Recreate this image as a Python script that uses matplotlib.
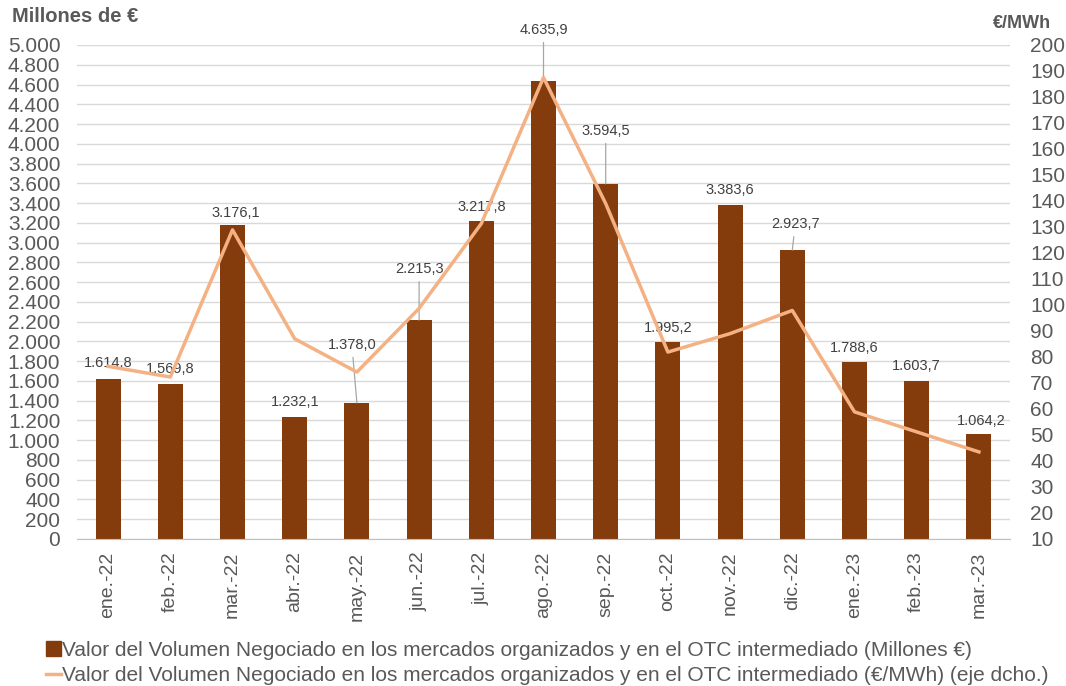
import matplotlib
matplotlib.use('Agg')
import matplotlib.pyplot as plt
from matplotlib.ticker import FuncFormatter, MultipleLocator
from matplotlib.patches import Patch
from matplotlib.lines import Line2D

# Data
meses = ['ene.-22', 'feb.-22', 'mar.-22', 'abr.-22', 'may.-22', 'jun.-22', 'jul.-22',
         'ago.-22', 'sep.-22', 'oct.-22', 'nov.-22', 'dic.-22', 'ene.-23', 'feb.-23', 'mar.-23']
millones = [1614.8, 1569.8, 3176.1, 1232.1, 1378.0, 2215.3, 3217.8,
            4635.9, 3594.5, 1995.2, 3383.6, 2923.7, 1788.6, 1603.7, 1064.2]
eur_mwh = [76.4, 72.3, 128.9, 87.0, 74.2, 98.7, 131.3,
           187.5, 139.0, 81.9, 89.0, 97.9, 58.9, 51.2, 43.5]

# label placement (pixels above bar top) and which labels have leader lines
lbl_dy = [16, 15, 12, 15, 58, 51, 14, 51, 53, 14, 15, 26, 14, 15, 13]
lbl_dx = [0, 0, 3, 0, -5, 0, 0, 0, 0, 0, 0, 3, 0, 0, 2]
leader = [False, False, False, False, True, True, False, True, True, False, False, True, False, False, False]

bar_color = '#843C0C'
line_color = '#F4B183'
txt_color = '#595959'

plt.rcParams['font.family'] = ['Liberation Sans', 'DejaVu Sans']

fig = plt.figure(figsize=(10.66, 6.86), dpi=100)
ax = fig.add_axes([77 / 1066, 1 - 539 / 686, (1010 - 77) / 1066, (539 - 45) / 686])
x = list(range(len(meses)))

ax.bar(x, millones, width=0.4, color=bar_color, zorder=2)
ax.set_xlim(-0.5, len(meses) - 0.5)
ax.set_ylim(0, 5000)
ax.yaxis.set_major_locator(MultipleLocator(200))
ax.yaxis.set_major_formatter(FuncFormatter(lambda v, p: f'{int(v):,}'.replace(',', '.')))
ax.grid(axis='y', color='#D9D9D9', lw=1, zorder=0)
ax.set_axisbelow(True)
for s in ['top', 'left', 'right']:
    ax.spines[s].set_visible(False)
ax.spines['bottom'].set_color('#BFBFBF')
ax.set_xticks(x)
ax.set_xticklabels(meses, rotation=90, fontsize=14, color=txt_color)
ax.tick_params(axis='x', length=0, pad=9)
ax.tick_params(axis='y', length=0, labelsize=15, labelcolor=txt_color, pad=12)

for i, v in enumerate(millones):
    lab = f'{v:,.1f}'.replace(',', 'X').replace('.', ',').replace('X', '.')
    if leader[i]:
        ax.annotate(lab, (i, v), xytext=(lbl_dx[i], lbl_dy[i]), textcoords='offset pixels',
                    ha='center', va='center', fontsize=10.5, color='#404040',
                    arrowprops=dict(arrowstyle='-', color='#A6A6A6', lw=0.9, shrinkA=2, shrinkB=0))
    else:
        ax.annotate(lab, (i, v), xytext=(lbl_dx[i], lbl_dy[i]), textcoords='offset pixels',
                    ha='center', va='center', fontsize=10.5, color='#404040')

ax2 = ax.twinx()
ax2.plot(x, eur_mwh, color=line_color, lw=2.5, zorder=3)
ax2.set_ylim(10, 200)
ax2.yaxis.set_major_locator(MultipleLocator(10))
for s in ['top', 'left', 'right', 'bottom']:
    ax2.spines[s].set_visible(False)
ax2.tick_params(axis='y', length=0, labelsize=15, labelcolor=txt_color, pad=14.5)

fig.text(12 / 1066, 1 - 17 / 686, 'Millones de €', fontsize=14.5, fontweight='bold',
         color=txt_color, va='center', ha='left')
fig.text(1051 / 1066, 1 - 23 / 686, '€/MWh', fontsize=13, fontweight='bold',
         color=txt_color, va='center', ha='right')

handles = [Patch(color=bar_color),
           Line2D([0], [0], color=line_color, lw=2.5)]
labels = ['Valor del Volumen Negociado en los mercados organizados y en el OTC intermediado (Millones €)',
          'Valor del Volumen Negociado en los mercados organizados y en el OTC intermediado (€/MWh) (eje dcho.)']
fig.legend(handles, labels, loc='upper left', bbox_to_anchor=(46 / 1066, 1 - 641 / 686),
           frameon=False, fontsize=15, labelcolor=txt_color, handlelength=0.7,
           handletextpad=0.05, labelspacing=0.3, borderaxespad=0, borderpad=0)

fig.savefig('out.png', dpi=100)
